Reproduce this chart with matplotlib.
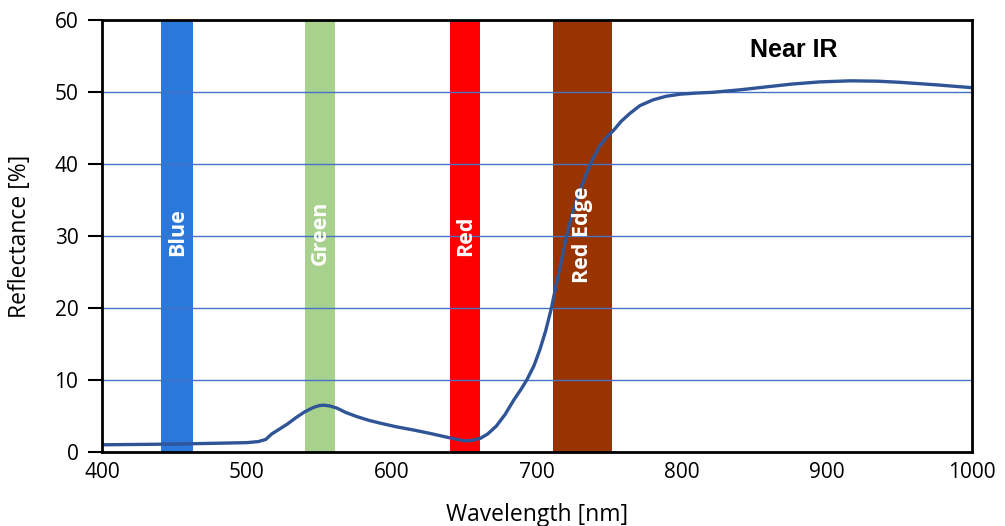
import matplotlib
matplotlib.use("Agg")
import matplotlib.pyplot as plt

# reflectance curve
wavelength = [400, 450, 488, 500, 508, 513, 517, 521, 528, 534, 540, 546, 550, 553, 557, 562,
              568, 576, 584, 592, 603, 615, 627, 638, 645, 650, 655, 661, 666, 672, 678,
              684, 689, 693, 698, 702, 706, 710, 713, 716, 719, 722, 725, 728, 731, 734,
              738, 743, 748, 753, 758, 764, 771, 780, 789, 799, 810, 821, 840, 860, 876,
              895, 916, 935, 950, 975, 1000]
reflectance = [1.0, 1.1, 1.25, 1.3, 1.45, 1.75, 2.5, 3.0, 3.9, 4.8, 5.6, 6.2, 6.45, 6.5, 6.4, 6.1,
               5.5, 4.9, 4.4, 4.0, 3.5, 3.05, 2.55, 2.05, 1.75, 1.55, 1.6, 1.9, 2.5, 3.6, 5.2,
               7.2, 8.7, 10.0, 12.0, 14.2, 16.8, 20.0, 22.9, 25.7, 28.6, 31.3, 33.5, 35.3, 37.0, 38.6,
               40.5, 42.4, 43.7, 44.7, 45.9, 47.0, 48.1, 48.9, 49.4, 49.7, 49.85, 49.95, 50.3, 50.75, 51.1,
               51.4, 51.55, 51.5, 51.35, 51.0, 50.6]

band_names = ["Blue", "Green", "Red", "Red Edge"]
band_lo = [441, 540, 640, 711]
band_hi = [463, 561, 661, 752]
band_colors = ["#2A78DC", "#A9D18E", "#FF0000", "#993300"]
band_label_y = [30.5, 30.5, 30.0, 30.2]

xticks = [400, 500, 600, 700, 800, 900, 1000]
yticks = [0, 10, 20, 30, 40, 50, 60]

plt.rcParams['font.family'] = ['Open Sans', 'DejaVu Sans']

fig = plt.figure(figsize=(10.05, 5.26), dpi=100)
ax = fig.add_axes([0.1015, 0.1407, 0.8655, 0.8213])

for name, lo, hi, c, ty in zip(band_names, band_lo, band_hi, band_colors, band_label_y):
    ax.axvspan(lo, hi, color=c, zorder=1, lw=0)
    ax.text((lo + hi) / 2, ty, name, rotation=90, color="white", fontweight="bold",
            fontsize=15.5, ha="center", va="center", zorder=4)

ax.plot(wavelength, reflectance, color="#2F5597", lw=2.4, zorder=3,
        solid_capstyle="round", solid_joinstyle="round")

ax.text(877, 55.8, "Near IR", fontsize=18, fontweight="bold", family="Liberation Sans",
        ha="center", va="center", zorder=4)

ax.set_xlim(400, 1000)
ax.set_ylim(0, 60)
ax.set_xticks(xticks)
ax.set_yticks(yticks)
ax.set_axisbelow(False)
ax.yaxis.grid(True, color="#4472C4", lw=1.0, zorder=2)
for s in ax.spines.values():
    s.set_linewidth(2)
    s.set_color("black")
    s.set_zorder(5)
ax.tick_params(axis="y", length=10, width=1.5, labelsize=15, pad=7)
ax.tick_params(axis="x", length=0, labelsize=15, pad=7)
ax.set_xlabel("Wavelength [nm]", fontsize=16.5)
ax.set_ylabel("Reflectance [%]", fontsize=16.5)
ax.xaxis.set_label_coords(0.5, -0.118)
ax.yaxis.set_label_coords(-0.08, 0.5)

fig.savefig("out.png", dpi=100)
